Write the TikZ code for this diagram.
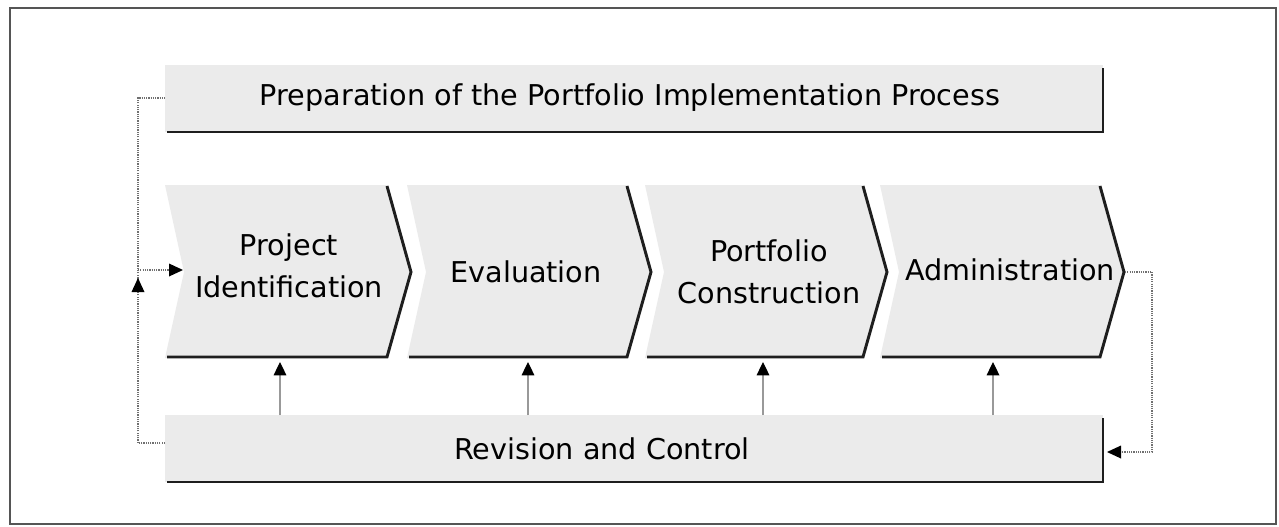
\documentclass[tikz,border=0pt]{standalone}
\usepackage{fontspec}
\setmainfont{DejaVu Sans}
\usetikzlibrary{arrows.meta}
\definecolor{boxfill}{HTML}{EBEBEB}
\definecolor{shadowc}{HTML}{1E1E1E}
\definecolor{framec}{HTML}{555555}
\definecolor{dotc}{HTML}{707070}
\tikzset{
  shadowline/.style={draw=shadowc, line width=2.2pt, line join=miter},
  label/.style={font=\fontsize{21.5}{31.5}\selectfont, align=center, text=black, inner sep=0pt},
  dotline/.style={draw=dotc, line width=1pt, dash pattern=on 0.9pt off 0.8pt},
  uparrow/.style={draw=gray!80, line width=0.9pt, -{Triangle[length=10pt,width=9.5pt,color=black]}},
}
\begin{document}
\begin{tikzpicture}[x=0.75pt,y=-0.75pt]
\useasboundingbox (0,0) rectangle (1279,526);
% frame
\draw[framec, line width=2.2pt] (10,8) rectangle (1276,524);
% top box
\fill[boxfill] (165,65) rectangle (1103,132);
\draw[shadowline] (1103,68) -- (1103,132) -- (167,132);
\node[label] (prep) at (630,98) {Preparation of the Portfolio Implementation Process};
% bottom box
\fill[boxfill] (165,415) rectangle (1103,482);
\draw[shadowline] (1103,418) -- (1103,482) -- (167,482);
\node[label] (rev) at (602,449) {Revision and Control};
% chevrons
\foreach \L/\R/\n in {165/387/1, 407/627/2, 645/863/3, 880/1100/4}{
  \fill[boxfill] (\L,185) -- (\R,185) -- (\R+25,272) -- (\R,358) -- (\L,358) -- (\L+19,272) -- cycle;
  \draw[shadowline] (\R,186) -- (\R+24,272) -- (\R,357) -- (\L+2,357);
}
\coordinate (tip4) at (1125,272);
\coordinate (notch1) at (183,270);
\node[label] (c1) at (289,266) {Project\\Identification};
\node[label] (c2) at (526,272) {Evaluation};
\node[label] (c3) at (769,272) {Portfolio\\Construction};
\node[label] (c4) at (1010,270) {Administration};
% up arrows
\foreach \x/\n in {280/1, 528/2, 763/3, 993/4}{
  \coordinate (b\n) at (\x,362);
  \coordinate (r\n) at (\x,415);
  \draw[uparrow] (r\n) -- (b\n);
}
% left feedback loop
\coordinate (revL) at (165,443);
\coordinate (prepL) at (165,98);
\coordinate (lc) at (138,443);
\coordinate (lt) at (138,98);
\coordinate (lm) at (138,278);
\coordinate (lb) at (138,270);
\draw[dotline] (revL) -- (lc) -- (lm);
\fill[black] (lm) -- (131.5,292) -- (144.5,292) -- cycle;
\draw[dotline] (lm) -- (lt) -- (prepL);
\draw[dotline] (lb) -- (169,270);
\fill[black] (notch1) -- (169,263.5) -- (169,276.5) -- cycle;
% right feedback loop
\coordinate (rc1) at (1152,272);
\coordinate (rc2) at (1152,452);
\coordinate (revR) at (1107,452);
\draw[dotline] (tip4) -- (rc1) -- (rc2) -- (1121,452);
\fill[black] (revR) -- (1121,445.5) -- (1121,458.5) -- cycle;
\end{tikzpicture}
\end{document}
